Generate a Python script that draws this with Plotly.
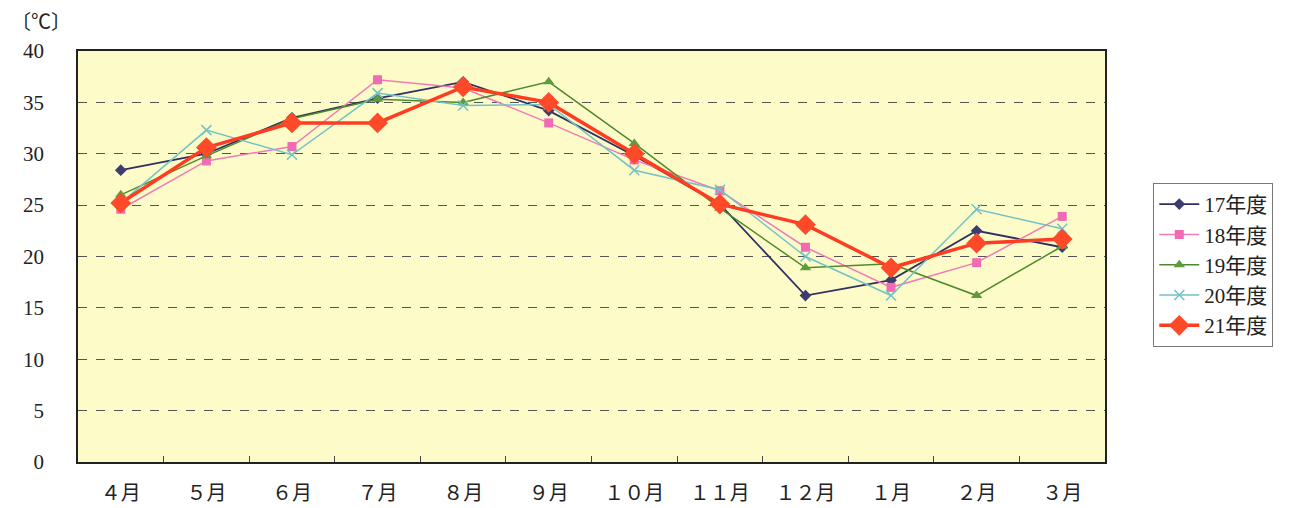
import plotly.graph_objects as go

months = ["４月", "５月", "６月", "７月", "８月", "９月", "１０月", "１１月", "１２月", "１月", "２月", "３月"]

fy17 = [28.4, 30.0, 33.5, 35.4, 37.0, 34.2, 29.8, 25.1, 16.2, 17.7, 22.5, 20.9]
fy18 = [24.6, 29.3, 30.7, 37.2, 36.4, 33.0, 29.4, 26.4, 20.9, 17.0, 19.4, 23.9]
fy19 = [26.0, 29.8, 33.4, 35.3, 35.0, 37.0, 31.0, 24.7, 18.9, 19.3, 16.2, 21.0]
fy20 = [25.2, 32.3, 29.9, 35.9, 34.7, 34.8, 28.4, 26.5, 20.0, 16.2, 24.6, 22.7]
fy21 = [25.2, 30.6, 33.0, 33.0, 36.5, 35.0, 30.0, 25.1, 23.1, 18.9, 21.3, 21.7]

font_main = "Liberation Serif, Noto Sans CJK JP"

series = [
    ("17年度", fy17, "#2f2f62", "diamond", 9, 1.8, "#3c3c70"),
    ("18年度", fy18, "#f27ab8", "square", 9, 1.5, "#f06ab4"),
    ("19年度", fy19, "#4e8a2c", "triangle-up", 10, 1.5, "#5f9a3c"),
    ("20年度", fy20, "#72c2c6", "x-thin", 10, 1.5, "#72c2c6"),
    ("21年度", fy21, "#ff3b22", "diamond", 16, 3.5, "#ff4a2a"),
]

fig = go.Figure()
for name, vals, col, sym, size, width, mcol in series:
    fig.add_trace(go.Scatter(
        x=months, y=vals, name=name, mode="lines+markers",
        line=dict(color=col, width=width),
        marker=dict(symbol=sym, size=size, color=mcol,
                    line=dict(color=mcol, width=1.5 if sym == "x-thin" else 0)),
    ))

# page body adds an 8px offset, margins compensate for it
fig.update_layout(
    width=1298, height=508,
    margin=dict(l=70, r=201, t=43, b=54),
    paper_bgcolor="white",
    plot_bgcolor="#fdfcc8",
    font=dict(family=font_main, size=18, color="#222222"),
    legend=dict(
        x=1.047, y=0.679, xanchor="left", yanchor="top",
        bordercolor="#777777", borderwidth=1, bgcolor="white",
        font=dict(size=21, family=font_main),
        tracegroupgap=0, itemwidth=40,
    ),
    annotations=[dict(
        text="〔℃〕", x=0, y=1, xref="paper", yref="paper",
        xshift=-69, yshift=42, showarrow=False, xanchor="left", yanchor="top",
        font=dict(size=20, family=font_main),
    )],
)

fig.update_xaxes(
    type="category", range=[-0.5, len(months) - 0.5],
    showline=True, linecolor="#222222", linewidth=1.5,
    mirror=True, ticks="inside", tickson="boundaries", ticklen=6,
    tickcolor="#444444", showgrid=False, ticklabelstandoff=12,
    tickfont=dict(size=20), automargin=False,
)
fig.update_yaxes(
    range=[0, 40], dtick=5, showline=True, linecolor="#222222", linewidth=1.5,
    mirror=True, ticks="", showgrid=True, gridcolor="#555555",
    griddash="dash", gridwidth=1, zeroline=False, ticklabelstandoff=28,
    tickfont=dict(size=21), automargin=False,
)

fig.write_html("out.html")
